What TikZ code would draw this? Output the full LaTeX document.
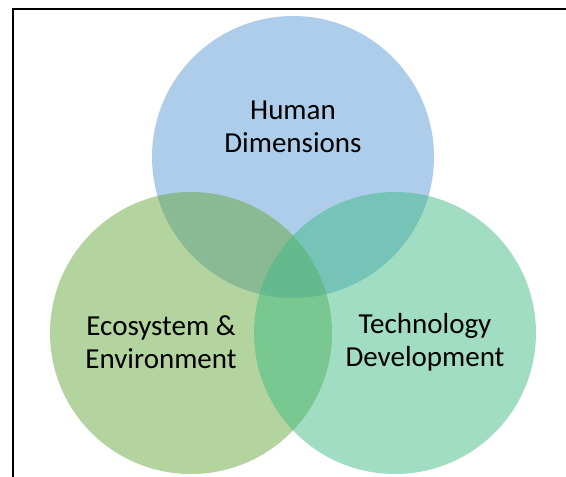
\documentclass[tikz,border=0pt]{standalone}
\usepackage{fontspec}
\setmainfont{Carlito}
\definecolor{humanblue}{RGB}{91,155,213}
\definecolor{ecogreen}{RGB}{103,167,63}
\definecolor{techteal}{RGB}{65,187,133}
\begin{document}
\begin{tikzpicture}[
	x=1pt, y=-1pt,
	venn/.style={ circle, draw=none, fill opacity=0.5, inner sep=0pt, minimum size=282pt },
	caption/.style={ align=center, font=\fontsize{29}{33}\selectfont, text=black }
]
\useasboundingbox (0,0) rectangle (566,477);

\coordinate (frametl) at (13,9);
\coordinate (framebl) at (13,477);
\coordinate (frametr) at (566,9);
\draw[line width=2.4pt] (framebl) -- (frametl) -- (frametr);

\node at (293,157) (human) [venn,fill=humanblue] {};
\node at (191,333) (eco) [venn,fill=ecogreen] {};
\node at (395,333) (tech) [venn,fill=techteal] {};

\node at (293,127) (humanlbl) [caption] {Human\\Dimensions};
\node at (161,342) (ecolbl) [caption] {Ecosystem \&\\Environment};
\node at (425,342) (techlbl) [caption] {Technology\\Development};

\end{tikzpicture}
\end{document}
